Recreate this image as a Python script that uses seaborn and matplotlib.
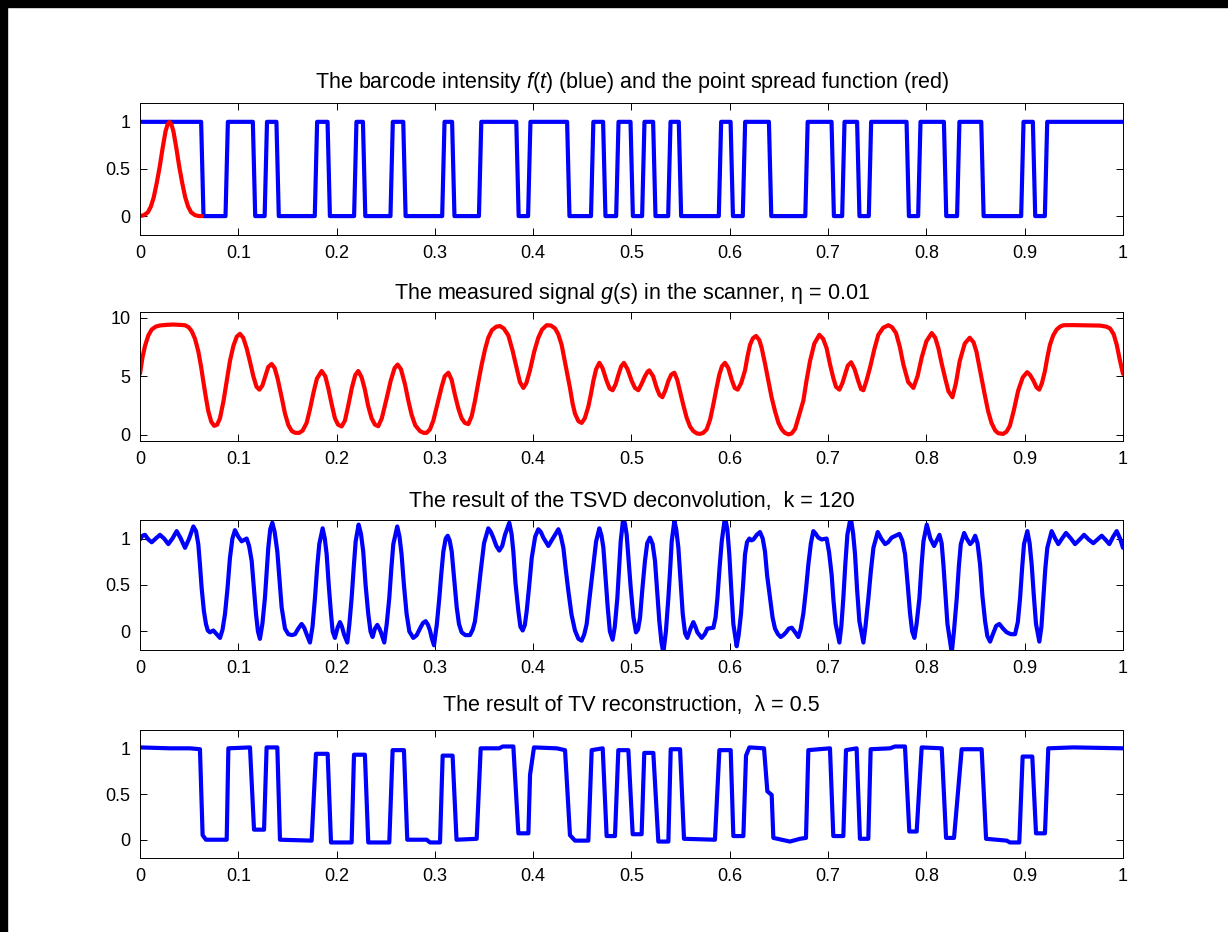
"""
Barcode deblurring figure: barcode + PSF, measured signal, TSVD and TV results.
"""
import matplotlib

matplotlib.use("Agg")
import matplotlib.pyplot as plt
import seaborn as sns

sns.set_style("ticks")
plt.rcParams["font.family"] = ["Liberation Sans", "DejaVu Sans"]
plt.rcParams["text.color"] = "black"
plt.rcParams["axes.titlecolor"] = "black"
plt.rcParams["mathtext.fontset"] = "custom"
plt.rcParams["mathtext.rm"] = "Liberation Sans"
plt.rcParams["mathtext.it"] = "Liberation Sans:italic"

# ---- data ----
# barcode edges (start level 1, alternates at each edge)
bar_edges = [0.0634, 0.0882, 0.116, 0.128, 0.140, 0.179, 0.192, 0.219, 0.228,
             0.256, 0.269, 0.3086, 0.3187, 0.346, 0.384, 0.396, 0.4357, 0.460,
             0.4723, 0.4856, 0.5002, 0.512, 0.5232, 0.5385, 0.5493, 0.590,
             0.602, 0.6144, 0.641, 0.678, 0.7047, 0.7155, 0.7307, 0.7426,
             0.781, 0.7928, 0.819, 0.8324, 0.857, 0.8976, 0.9095, 0.9217]
bar_start = 1.0

psf_x = [0.0, 0.004, 0.008, 0.011, 0.014, 0.017, 0.02, 0.023, 0.026, 0.028,
         0.030, 0.032, 0.034, 0.037, 0.040, 0.043, 0.046, 0.049, 0.052, 0.056,
         0.060, 0.063]
psf_y = [0.0, 0.01, 0.04, 0.1, 0.2, 0.35, 0.52, 0.72, 0.9, 0.97, 1.0, 0.97,
         0.9, 0.72, 0.52, 0.35, 0.2, 0.1, 0.04, 0.01, 0.0, 0.0]

# measured signal g(s), (s, value)
g_pts = [
    (0.0, 5.2), (0.0025, 6.6), (0.0051, 7.6), (0.0085, 8.5), (0.0119, 9.0),
    (0.016, 9.25), (0.0203, 9.35), (0.027, 9.4), (0.0339, 9.43), (0.040, 9.4),
    (0.0458, 9.37), (0.0495, 9.2), (0.0526, 8.86), (0.056, 8.2), (0.0593, 7.14),
    (0.062, 5.9), (0.0644, 4.57), (0.067, 3.2), (0.0695, 2.0), (0.0725, 1.1),
    (0.0755, 0.75), (0.0785, 0.85), (0.0814, 1.4), (0.085, 2.9), (0.0882, 4.57),
    (0.0915, 6.3), (0.095, 7.6), (0.0985, 8.4), (0.1017, 8.63), (0.105, 8.3),
    (0.1085, 7.4), (0.112, 6.2), (0.1153, 5.0), (0.1185, 4.1), (0.1215, 3.85),
    (0.1245, 4.2), (0.1275, 5.0), (0.1305, 5.8), (0.1339, 6.05), (0.137, 5.7),
    (0.140, 4.8), (0.1441, 3.2), (0.1475, 1.8), (0.151, 0.8), (0.1545, 0.3),
    (0.158, 0.15), (0.162, 0.15), (0.1655, 0.35), (0.1695, 1.0), (0.173, 2.2),
    (0.1765, 3.6), (0.180, 4.8), (0.1848, 5.45), (0.1885, 5.0), (0.1915, 4.0),
    (0.195, 2.6), (0.1983, 1.4), (0.2015, 0.85), (0.2051, 0.7), (0.2085, 1.2),
    (0.2119, 2.5), (0.2155, 4.0), (0.219, 5.1), (0.222, 5.45), (0.2255, 4.9),
    (0.2288, 3.85), (0.232, 2.5), (0.2356, 1.4), (0.239, 0.85), (0.2424, 0.72),
    (0.246, 1.4), (0.2509, 3.1), (0.255, 4.6), (0.259, 5.7), (0.2621, 6.0),
    (0.2655, 5.6), (0.2696, 4.3), (0.273, 2.9), (0.2763, 1.7), (0.280, 0.8),
    (0.2848, 0.3), (0.2885, 0.15), (0.2916, 0.15), (0.295, 0.45), (0.2984, 1.2),
    (0.3025, 2.6), (0.3069, 4.1), (0.310, 5.0), (0.3137, 5.3), (0.317, 4.7),
    (0.3204, 3.4), (0.324, 2.2), (0.3272, 1.4), (0.3305, 1.0), (0.334, 0.9),
    (0.3375, 1.6), (0.3408, 2.9), (0.3442, 4.5), (0.3476, 6.0), (0.351, 7.3),
    (0.3543, 8.3), (0.358, 8.95), (0.3625, 9.25), (0.3662, 9.3), (0.370, 9.1),
    (0.3747, 8.5), (0.379, 7.2), (0.3832, 5.7), (0.3865, 4.5), (0.39, 4.0),
    (0.393, 4.4), (0.3967, 5.5), (0.401, 7.1), (0.4052, 8.3), (0.409, 9.0),
    (0.4137, 9.37), (0.418, 9.35), (0.4222, 9.1), (0.4255, 8.6), (0.4289, 7.7),
    (0.433, 5.9), (0.4374, 4.0), (0.44, 2.7), (0.4425, 1.8), (0.446, 1.15),
    (0.4493, 1.0), (0.4525, 1.4), (0.4561, 2.4), (0.4588, 3.5), (0.4612, 4.6),
    (0.464, 5.6), (0.4673, 6.15), (0.4705, 5.7), (0.4747, 4.6), (0.4778, 3.95),
    (0.4808, 3.8), (0.4838, 4.3), (0.4866, 5.1), (0.4895, 5.85), (0.4923, 6.15),
    (0.496, 5.6), (0.5002, 4.6), (0.5035, 4.0), (0.5069, 3.8), (0.510, 4.3),
    (0.5137, 5.0), (0.5165, 5.4), (0.5181, 5.5), (0.522, 5.0), (0.5256, 4.0),
    (0.5285, 3.4), (0.5314, 3.2), (0.5345, 3.8), (0.5375, 4.6), (0.5405, 5.15),
    (0.5436, 5.3), (0.5465, 4.7), (0.5494, 3.7), (0.5528, 2.5), (0.5561, 1.45),
    (0.5595, 0.7), (0.5629, 0.3), (0.5665, 0.1), (0.5697, 0.06), (0.573, 0.15),
    (0.5765, 0.45), (0.580, 1.3), (0.5833, 2.6), (0.5865, 4.0), (0.5894, 5.15),
    (0.592, 5.85), (0.5951, 6.15), (0.5985, 5.7), (0.6019, 4.7), (0.605, 4.0),
    (0.608, 3.85), (0.6115, 4.4), (0.6155, 5.5), (0.618, 6.7), (0.6206, 7.7),
    (0.6235, 8.25), (0.6267, 8.45), (0.630, 8.1), (0.6325, 7.4), (0.636, 6.0),
    (0.6392, 4.6), (0.6425, 3.2), (0.646, 2.0), (0.6495, 1.0), (0.6528, 0.45),
    (0.656, 0.15), (0.6596, 0.02), (0.663, 0.1), (0.6665, 0.5), (0.670, 1.5),
    (0.6748, 2.9), (0.678, 4.6), (0.6816, 6.3), (0.686, 7.8), (0.6911, 8.55),
    (0.695, 8.2), (0.6985, 7.4), (0.702, 6.0), (0.7053, 4.85), (0.708, 4.1),
    (0.7115, 3.85), (0.7145, 4.4), (0.7172, 5.15), (0.720, 5.9), (0.7234, 6.2),
    (0.727, 5.6), (0.7308, 4.55), (0.7335, 3.9), (0.7359, 3.8), (0.739, 4.6),
    (0.7427, 5.75), (0.747, 7.3), (0.7511, 8.55), (0.756, 9.15), (0.7613, 9.37),
    (0.765, 9.2), (0.7691, 8.7), (0.773, 7.5), (0.7766, 6.0), (0.7815, 4.5),
    (0.7868, 4.0), (0.791, 5.0), (0.7952, 6.6), (0.800, 8.0), (0.8054, 8.7),
    (0.809, 8.3), (0.8122, 7.4), (0.8155, 6.1), (0.819, 4.85), (0.8225, 3.7),
    (0.8265, 3.2), (0.830, 4.4), (0.8339, 6.3), (0.839, 7.8), (0.8441, 8.3),
    (0.848, 7.9), (0.8509, 7.1), (0.855, 5.3), (0.8594, 3.4), (0.8628, 2.0),
    (0.8662, 1.0), (0.870, 0.35), (0.873, 0.12), (0.878, 0.06), (0.8815, 0.25),
    (0.8849, 0.75), (0.889, 2.1), (0.8933, 3.75), (0.898, 4.9), (0.9025, 5.35),
    (0.9055, 5.1), (0.9087, 4.65), (0.912, 4.05), (0.9148, 3.85), (0.9175, 4.4),
    (0.9206, 5.45), (0.923, 6.6), (0.9257, 7.7), (0.929, 8.5), (0.9325, 9.0),
    (0.936, 9.25), (0.9393, 9.37), (0.948, 9.38), (0.9563, 9.37), (0.965, 9.36),
    (0.9766, 9.34), (0.983, 9.25), (0.9868, 9.1), (0.9905, 8.6), (0.9936, 7.7),
    (0.9965, 6.5), (1.0, 5.2),
]

# TSVD solution, k = 120
tsvd_pts = [
    (0.0, 0.99), (0.0025, 1.03), (0.0051, 1.04), (0.0085, 0.99), (0.0119, 0.96),
    (0.016, 1.0), (0.0203, 1.04), (0.0245, 1.0), (0.0288, 0.94), (0.033, 1.0),
    (0.0373, 1.08), (0.0415, 1.0), (0.0458, 0.9), (0.050, 1.0), (0.0543, 1.13),
    (0.057, 1.08), (0.0593, 0.94), (0.061, 0.72), (0.0627, 0.47), (0.065, 0.22),
    (0.0671, 0.08), (0.069, 0.01), (0.0712, -0.01), (0.0746, 0.01), (0.078, -0.03),
    (0.0814, -0.07), (0.084, 0.02), (0.0865, 0.19), (0.089, 0.46), (0.0915, 0.79),
    (0.094, 1.0), (0.0966, 1.09), (0.100, 1.02), (0.1034, 0.97), (0.1085, 1.0),
    (0.111, 0.92), (0.1136, 0.76), (0.116, 0.45), (0.118, 0.19), (0.120, 0.0),
    (0.122, -0.08), (0.1245, 0.08), (0.1271, 0.36), (0.1305, 0.9), (0.1325, 1.1),
    (0.1346, 1.17), (0.137, 1.07), (0.1397, 0.86), (0.142, 0.55), (0.1441, 0.26),
    (0.1475, 0.03), (0.1509, -0.03), (0.1545, -0.04), (0.1577, -0.03), (0.161, 0.03),
    (0.1644, 0.08), (0.167, 0.04), (0.1695, -0.03), (0.1729, -0.12), (0.1755, 0.05),
    (0.178, 0.36), (0.1803, 0.7), (0.1824, 0.94), (0.1858, 1.11), (0.188, 1.0),
    (0.1899, 0.83), (0.192, 0.5), (0.1943, 0.19), (0.196, 0.0), (0.1983, -0.07),
    (0.201, 0.04), (0.2034, 0.1), (0.2055, 0.05), (0.2075, -0.03), (0.2109, -0.12),
    (0.213, 0.08), (0.2153, 0.36), (0.2175, 0.7), (0.2194, 0.97), (0.2224, 1.15),
    (0.2248, 1.05), (0.2271, 0.86), (0.2295, 0.5), (0.2322, 0.19), (0.2345, 0.0),
    (0.2366, -0.06), (0.239, 0.03), (0.2414, 0.07), (0.2435, 0.03), (0.2451, -0.01),
    (0.2485, -0.12), (0.251, 0.08), (0.2536, 0.36), (0.2557, 0.68), (0.2577, 0.94),
    (0.2617, 1.13), (0.264, 1.02), (0.2661, 0.83), (0.2685, 0.5), (0.2712, 0.19),
    (0.274, 0.0), (0.278, -0.07), (0.2815, -0.04), (0.2848, 0.03), (0.2878, 0.09),
    (0.2906, 0.11), (0.293, 0.07), (0.295, 0.01), (0.297, -0.08), (0.2991, -0.15),
    (0.302, 0.08), (0.3045, 0.36), (0.3065, 0.62), (0.3086, 0.86), (0.311, 1.0),
    (0.313, 1.03), (0.315, 0.98), (0.3171, 0.86), (0.3195, 0.58), (0.3222, 0.26),
    (0.3245, 0.08), (0.3272, -0.01), (0.331, -0.04), (0.3357, -0.04), (0.3385, 0.02),
    (0.3408, 0.11), (0.3435, 0.35), (0.3466, 0.65), (0.350, 0.95), (0.3543, 1.11),
    (0.357, 1.07), (0.3594, 1.01), (0.3625, 0.92), (0.3655, 0.87), (0.3685, 0.92),
    (0.3713, 1.04), (0.3757, 1.17), (0.378, 1.05), (0.3798, 0.86), (0.382, 0.52),
    (0.3849, 0.22), (0.387, 0.05), (0.3893, 0.01), (0.3915, 0.07), (0.3934, 0.22),
    (0.396, 0.5), (0.3985, 0.79), (0.402, 1.02), (0.4052, 1.1), (0.4078, 1.07),
    (0.4103, 1.01), (0.4154, 0.92), (0.4205, 1.01), (0.4256, 1.1), (0.428, 1.03),
    (0.4307, 0.9), (0.433, 0.68), (0.4357, 0.44), (0.439, 0.18), (0.4425, 0.01),
    (0.446, -0.08), (0.4493, -0.1), (0.452, -0.03), (0.4544, 0.08), (0.457, 0.33),
    (0.4605, 0.65), (0.464, 0.97), (0.4673, 1.11), (0.4695, 1.03), (0.4714, 0.9),
    (0.4735, 0.6), (0.4758, 0.26), (0.478, 0.0), (0.4808, -0.09), (0.483, 0.05),
    (0.4856, 0.36), (0.4875, 0.7), (0.489, 0.97), (0.4917, 1.23), (0.4935, 1.15),
    (0.4951, 1.04), (0.497, 0.78), (0.4992, 0.47), (0.502, 0.15), (0.5046, -0.01),
    (0.5066, 0.02), (0.5087, 0.15), (0.511, 0.45), (0.5137, 0.76), (0.516, 0.95),
    (0.5188, 1.01), (0.5215, 0.94), (0.5239, 0.76), (0.526, 0.45), (0.5283, 0.11),
    (0.5305, -0.12), (0.5324, -0.23), (0.535, 0.0), (0.5375, 0.36), (0.5395, 0.7),
    (0.5409, 0.97), (0.5436, 1.19), (0.5455, 1.1), (0.5477, 0.9), (0.550, 0.52),
    (0.5521, 0.19), (0.5545, -0.02), (0.5568, -0.07), (0.560, 0.03), (0.5629, 0.1),
    (0.565, 0.05), (0.567, -0.01), (0.5714, -0.07), (0.5745, -0.03), (0.5772, 0.03),
    (0.5833, 0.04), (0.5855, 0.15), (0.5874, 0.36), (0.5897, 0.7), (0.5918, 0.97),
    (0.5951, 1.23), (0.5975, 1.1), (0.5995, 0.83), (0.6015, 0.45), (0.6036, 0.08),
    (0.607, -0.16), (0.609, -0.04), (0.6114, 0.19), (0.6135, 0.5), (0.6155, 0.83),
    (0.6175, 0.96), (0.6199, 1.0), (0.622, 0.98), (0.624, 0.99), (0.6275, 1.04),
    (0.6307, 1.07), (0.6335, 1.0), (0.6358, 0.86), (0.638, 0.6), (0.6409, 0.36),
    (0.6435, 0.15), (0.646, 0.03), (0.649, -0.03), (0.6518, -0.06), (0.6545, -0.04),
    (0.6572, -0.01), (0.660, 0.03), (0.663, 0.04), (0.6665, -0.01), (0.6697, -0.06),
    (0.672, 0.02), (0.6748, 0.19), (0.6775, 0.45), (0.6799, 0.72), (0.6825, 0.95),
    (0.685, 1.08), (0.6875, 1.05), (0.69, 1.01), (0.6934, 0.99), (0.6985, 1.0),
    (0.701, 0.85), (0.7036, 0.61), (0.7055, 0.33), (0.7077, 0.08), (0.7115, -0.12),
    (0.7135, 0.06), (0.7155, 0.36), (0.7175, 0.72), (0.7196, 1.04), (0.723, 1.23),
    (0.7255, 1.05), (0.7274, 0.83), (0.7295, 0.45), (0.7318, 0.11), (0.7359, -0.12),
    (0.738, 0.05), (0.741, 0.36), (0.7435, 0.65), (0.7461, 0.9), (0.7505, 1.07),
    (0.754, 1.0), (0.758, 0.94), (0.761, 0.96), (0.7647, 1.01), (0.7726, 1.05),
    (0.7755, 0.98), (0.7783, 0.83), (0.781, 0.5), (0.7834, 0.19), (0.7855, 0.0),
    (0.7878, -0.07), (0.790, 0.08), (0.7929, 0.36), (0.795, 0.7), (0.797, 0.97),
    (0.8004, 1.15), (0.804, 1.0), (0.8078, 0.92), (0.8105, 0.98), (0.8133, 1.04),
    (0.8155, 0.95), (0.8173, 0.72), (0.8195, 0.38), (0.8214, 0.08), (0.8258, -0.23),
    (0.828, 0.0), (0.8309, 0.36), (0.833, 0.7), (0.835, 0.94), (0.8384, 1.06),
    (0.841, 1.0), (0.8445, 0.94), (0.847, 0.97), (0.8496, 1.03), (0.852, 0.95),
    (0.8546, 0.72), (0.857, 0.38), (0.8597, 0.11), (0.862, -0.05), (0.8648, -0.11),
    (0.868, -0.02), (0.871, 0.06), (0.8742, 0.08), (0.878, 0.03), (0.8817, -0.01),
    (0.886, -0.03), (0.8902, -0.03), (0.893, 0.1), (0.8953, 0.36), (0.8975, 0.7),
    (0.8993, 0.94), (0.9027, 1.08), (0.905, 0.95), (0.9071, 0.72), (0.9093, 0.38),
    (0.9115, 0.08), (0.9149, -0.11), (0.917, 0.05), (0.919, 0.36), (0.921, 0.68),
    (0.923, 0.9), (0.9274, 1.08), (0.931, 1.0), (0.9342, 0.94), (0.938, 1.0),
    (0.942, 1.06), (0.947, 1.0), (0.9512, 0.94), (0.956, 0.99), (0.9604, 1.04),
    (0.965, 0.99), (0.9698, 0.95), (0.974, 0.99), (0.9783, 1.03), (0.982, 0.99),
    (0.9861, 0.94), (0.990, 1.02), (0.9936, 1.08), (0.997, 1.0), (1.0, 0.9),
]

# TV solution, lambda = 0.5
tv_x = [0.0, 0.0305, 0.0509, 0.061, 0.0637, 0.0671, 0.0882, 0.0899, 0.1119,
        0.116, 0.1262, 0.1288, 0.1397, 0.1424, 0.1746, 0.179, 0.1909, 0.1943,
        0.2153, 0.2177, 0.2288, 0.2322, 0.2536, 0.257, 0.2685, 0.2719, 0.2916,
        0.295, 0.3052, 0.3079, 0.318, 0.322, 0.3425, 0.3466, 0.3655, 0.369,
        0.3798, 0.3849, 0.3951, 0.3968, 0.4008, 0.4239, 0.4324, 0.4374,
        0.4425, 0.4561, 0.4595, 0.4707, 0.4747, 0.4832, 0.4866, 0.4968,
        0.5012, 0.5103, 0.513, 0.5222, 0.5273, 0.5375, 0.5399, 0.5494,
        0.5534, 0.5849, 0.5894, 0.6009, 0.6036, 0.6138, 0.6165, 0.6199,
        0.6348, 0.6382, 0.6426, 0.6443, 0.6612, 0.6714, 0.6775, 0.6799,
        0.7019, 0.7053, 0.7155, 0.7182, 0.729, 0.7324, 0.7409, 0.7433, 0.763,
        0.768, 0.7782, 0.7826, 0.7901, 0.7952, 0.8156, 0.82, 0.8281, 0.8359,
        0.8562, 0.8607, 0.8817, 0.885, 0.8945, 0.8979, 0.9077, 0.9115,
        0.9206, 0.924, 0.9495, 1.0]
tv_y = [1.01, 1.0, 1.0, 0.99, 0.05, 0.0, 0.0, 1.0, 1.01, 0.11, 0.11, 1.01,
        1.01, 0.0, -0.01, 0.94, 0.94, -0.03, -0.03, 0.93, 0.93, -0.03, -0.03,
        0.98, 0.98, 0.0, 0.0, -0.03, -0.03, 0.92, 0.92, 0.0, 0.01, 1.0, 1.0,
        1.02, 1.02, 0.07, 0.07, 0.71, 1.01, 1.0, 0.98, 0.05, -0.01, -0.01,
        0.98, 1.0, 0.04, 0.04, 0.98, 0.98, 0.06, 0.06, 0.95, 0.95, -0.02,
        -0.02, 0.99, 0.99, 0.01, 0.0, 0.98, 0.98, 0.04, 0.04, 0.92, 1.01,
        1.0, 0.53, 0.49, 0.02, -0.02, 0.01, 0.02, 0.98, 1.0, 0.04, 0.04,
        0.98, 1.0, 0.01, 0.01, 0.99, 1.0, 1.02, 1.02, 0.09, 0.09, 1.01, 1.0,
        0.02, 0.02, 0.99, 0.99, 0.01, -0.01, -0.03, -0.03, 0.91, 0.91, 0.07,
        0.07, 1.0, 1.01, 1.0]

titles = [
    r"The barcode intensity $\mathit{f(t)}$ (blue) and the point spread function (red)",
    r"The measured signal $\mathit{g(s)}$ in the scanner, η = 0.01",
    "The result of the TSVD deconvolution,  k = 120",
    "The result of TV reconstruction,  λ = 0.5",
]
x_ticks = [0, 0.1, 0.2, 0.3, 0.4, 0.5, 0.6, 0.7, 0.8, 0.9, 1]
x_ticklabels = ["0", "0.1", "0.2", "0.3", "0.4", "0.5", "0.6", "0.7", "0.8", "0.9", "1"]
unit_ticks = [0, 0.5, 1]
unit_ticklabels = ["0", "0.5", "1"]
g_ticks = [0, 5, 10]
g_ticklabels = ["0", "5", "10"]

g_x, g_y = zip(*g_pts)
tsvd_x, tsvd_y = zip(*tsvd_pts)

# barcode as a sampled step signal with short ramps
ramp = 0.0012
bar_x, bar_y = [0.0], [bar_start]
level = bar_start
for e in bar_edges:
    bar_x += [e - ramp, e + ramp]
    bar_y += [level, 1 - level]
    level = 1 - level
bar_x.append(1.0)
bar_y.append(level)

# ---- figure ----
fig = plt.figure(figsize=(12.28, 9.32), dpi=100)
fig.patch.set_facecolor("white")
# black frame along the top and left edge of the screenshot
fig.add_artist(plt.Rectangle((0, 0), 0.0055, 1, transform=fig.transFigure,
                             color="black", zorder=10))
fig.add_artist(plt.Rectangle((0, 0.9925), 1, 0.0075, transform=fig.transFigure,
                             color="black", zorder=10))

positions = [
    [0.114, 0.7479, 0.8005, 0.1416],
    [0.114, 0.5268, 0.8005, 0.1384],
    [0.114, 0.3026, 0.8005, 0.1395],
    [0.114, 0.0794, 0.8005, 0.1373],
]
title_pads = [10.5, 9.5, 9.5, 13.5]
axes = [fig.add_axes(p) for p in positions]

lw = 3.0
kw = dict(linewidth=lw, sort=False, estimator=None)
sns.lineplot(x=bar_x, y=bar_y, color="blue", ax=axes[0], **kw)
sns.lineplot(x=psf_x, y=psf_y, color="red", ax=axes[0], **kw)
sns.lineplot(x=list(g_x), y=list(g_y), color="red", ax=axes[1], **kw)
sns.lineplot(x=list(tsvd_x), y=list(tsvd_y), color="blue", ax=axes[2], **kw)
sns.lineplot(x=tv_x, y=tv_y, color="blue", ax=axes[3], **kw)

ylims = [(-0.2, 1.2), (-0.55, 10.5), (-0.2, 1.2), (-0.2, 1.2)]
for i, ax in enumerate(axes):
    ax.set_xlim(0, 1)
    ax.set_ylim(*ylims[i])
    ax.set_xticks(x_ticks)
    ax.set_xticklabels(x_ticklabels)
    if i == 1:
        ax.set_yticks(g_ticks)
        ax.set_yticklabels(g_ticklabels)
    else:
        ax.set_yticks(unit_ticks)
        ax.set_yticklabels(unit_ticklabels)
    ax.tick_params(direction="in", length=5, width=0.7, top=True, right=True,
                   labelsize=13, pad=7, colors="black")
    for s in ax.spines.values():
        s.set_linewidth(0.7)
        s.set_color("black")
        s.set_visible(True)
    ax.set_xlabel("")
    ax.set_ylabel("")
    ax.set_title(titles[i], fontsize=15.5, pad=title_pads[i], color="black")

fig.savefig("out.png", dpi=100)
